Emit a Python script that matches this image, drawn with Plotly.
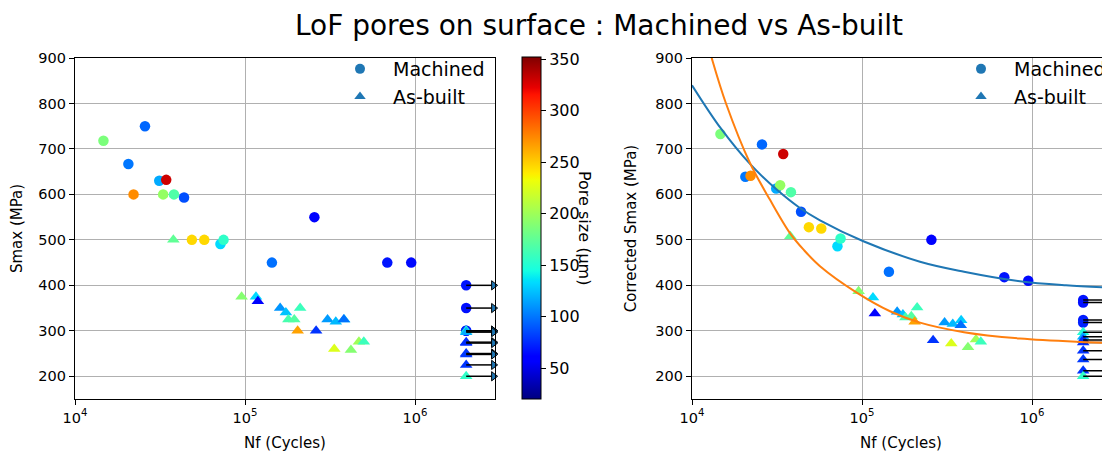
import plotly.graph_objects as go

# ---------------- data ----------------
# Machined specimens (circles)
mach_N = [1.47e4, 2.58e4, 2.06e4, 3.13e4, 3.44e4, 2.21e4, 3.3e4, 3.82e4, 4.38e4,
          4.87e4, 5.76e4, 7.17e4, 7.48e4, 2.56e5, 1.44e5, 6.87e5, 9.5e5]
mach_S = [718, 750, 667, 630, 632, 600, 600, 600, 593,
          500, 500, 491, 500, 550, 450, 450, 450]
mach_Sc = [733, 710, 639, 613, 689, 641, 620, 605, 562,
           528, 525, 486, 503, 500, 430, 418, 410]
mach_pore = [186, 95, 100, 117, 330, 273, 196, 168, 87,
             246, 246, 133, 155, 62, 98, 68, 64]

# Machined run-outs
mach_run_N = [2e6, 2e6, 2e6, 2e6]
mach_run_S = [400, 350, 300, 300]
mach_run_Sc = [368, 362, 324, 318]
mach_run_pore = [68, 66, 70, 72]

# As-built specimens (triangles)
ab_N = [3.79e4, 9.55e4, 1.16e5, 1.19e5, 1.61e5, 1.74e5, 2.11e5, 1.8e5, 1.95e5, 2.04e5,
        2.62e5, 3.06e5, 3.42e5, 3.83e5, 3.81e5, 3.35e5, 4.2e5, 4.68e5, 5.0e5]
ab_S = [500, 375, 375, 365, 350, 340, 350, 325, 325, 300,
        300, 325, 320, 325, 325, 260, 258, 276, 276]
ab_Sc = [508, 387, 373, 338, 342, 336, 351, 329, 332, 320,
         279, 318, 315, 323, 312, 272, 264, 281, 276]
ab_pore = [175, 190, 133, 62, 110, 125, 160, 165, 170, 265,
           78, 112, 122, 128, 98, 225, 190, 200, 160]

# As-built run-outs
ab_run_N = [2e6, 2e6, 2e6, 2e6, 2e6, 2e6, 2e6, 2e6]
ab_run_S = [300, 297, 275, 273, 250, 248, 225, 200]
ab_run_Sc = [297, 287, 280, 274, 256, 237, 212, 200]
ab_run_pore = [150, 118, 78, 76, 78, 80, 78, 155]

# Fitted curves (right panel)
fit_mach_N = [1e4, 1.479e4, 2.193e4, 3.162e4, 4.315e4, 5.662e4, 1.019e5, 2.193e5,
              3.981e5, 8.492e5, 1.585e6, 2.877e6, 4e6]
fit_mach_S = [840, 745, 667, 610, 570, 543, 497, 452, 430, 409, 400, 395, 393]
fit_ab_N = [1.122e4, 1.306e4, 1.585e4, 2.193e4, 2.877e4, 3.767e4, 4.519e4, 5.662e4,
            9.31e4, 1.462e5, 2.193e5, 3.981e5, 8.492e5, 2.089e6, 2.877e6, 4e6]
fit_ab_S = [990, 900, 800, 669, 588, 515, 479, 442, 384, 343, 318, 297, 283, 275, 273, 272]

x_tickvals = [1e4, 1e5, 1e6]
x_ticktext = ["10<sup>4</sup>", "10<sup>5</sup>", "10<sup>6</sup>"]
y_tickvals = [200, 300, 400, 500, 600, 700, 800, 900]
cb_tickvals = [50, 100, 150, 200, 250, 300, 350]

# ---------------- style ----------------
FONT = "DejaVu Sans"
C0 = "#1f77b4"
C1 = "#ff7f0e"
# the page body adds an 8 px offset; the figure is sized to fit inside the window
OFF = 8
W, H = 1110 - OFF, 452 - OFF


def px(xp):
    return (xp - OFF) / W


def py(yp):
    return 1 - (yp - OFF) / H


def jet(t):
    def interp(pts, t):
        for (x0, y0), (x1, y1) in zip(pts[:-1], pts[1:]):
            if x0 <= t <= x1:
                return y0 + (y1 - y0) * (t - x0) / (x1 - x0) if x1 > x0 else y1
        return pts[-1][1]
    r = interp([(0, 0), (0.35, 0), (0.66, 1), (0.89, 1), (1, 0.5)], t)
    g = interp([(0, 0), (0.125, 0), (0.375, 1), (0.64, 1), (0.91, 0), (1, 0)], t)
    b = interp([(0, 0.5), (0.11, 1), (0.34, 1), (0.65, 0), (1, 0)], t)
    return "rgb(%d,%d,%d)" % (round(r * 255), round(g * 255), round(b * 255))


stops = [0, 0.11, 0.125, 0.2, 0.34, 0.35, 0.375, 0.5, 0.64, 0.65, 0.66, 0.75, 0.89, 0.91, 1]
jet_scale = [[t, jet(t)] for t in stops]

fig = go.Figure()


def scatter(xs, ys, cs, symbol, size, xa, ya):
    fig.add_trace(go.Scatter(
        x=xs, y=ys, mode="markers", xaxis=xa, yaxis=ya, showlegend=False,
        marker=dict(symbol=symbol, size=size, color=cs, coloraxis="coloraxis",
                    line=dict(width=0)),
        hoverinfo="x+y"))


# left panel
scatter(mach_N, mach_S, mach_pore, "circle", 10.5, "x", "y")
scatter(mach_run_N, mach_run_S, mach_run_pore, "circle", 10.5, "x", "y")
scatter(ab_N, ab_S, ab_pore, "triangle-up", 11, "x", "y")
scatter(ab_run_N, ab_run_S, ab_run_pore, "triangle-up", 11, "x", "y")

# right panel
scatter(mach_N, mach_Sc, mach_pore, "circle", 10.5, "x2", "y2")
scatter(mach_run_N, mach_run_Sc, mach_run_pore, "circle", 10.5, "x2", "y2")
scatter(ab_N, ab_Sc, ab_pore, "triangle-up", 11, "x2", "y2")
scatter(ab_run_N, ab_run_Sc, ab_run_pore, "triangle-up", 11, "x2", "y2")

# run-out arrows
ARROW_HEAD_L = 2.9e6
for run_N, run_S, run_Sc in [(mach_run_N, mach_run_S, mach_run_Sc),
                             (ab_run_N, ab_run_S, ab_run_Sc)]:
    xs, ys = [], []
    for n, s in zip(run_N, run_S):
        xs += [n, ARROW_HEAD_L * 0.97, None]
        ys += [s, s, None]
    fig.add_trace(go.Scatter(x=xs, y=ys, mode="lines", xaxis="x", yaxis="y",
                             line=dict(color="black", width=1.5), showlegend=False,
                             hoverinfo="skip"))
    fig.add_trace(go.Scatter(x=[ARROW_HEAD_L] * len(run_S), y=run_S, mode="markers",
                             xaxis="x", yaxis="y", showlegend=False, cliponaxis=False,
                             marker=dict(symbol="triangle-right", size=8, color=C0,
                                         line=dict(color="black", width=1)),
                             hoverinfo="skip"))
    xs, ys = [], []
    for n, s in zip(run_N, run_Sc):
        xs += [n, 4e6, None]
        ys += [s, s, None]
    fig.add_trace(go.Scatter(x=xs, y=ys, mode="lines", xaxis="x2", yaxis="y2",
                             line=dict(color="black", width=1.5), showlegend=False,
                             hoverinfo="skip"))

# fitted curves
fig.add_trace(go.Scatter(x=fit_mach_N, y=fit_mach_S, mode="lines", xaxis="x2", yaxis="y2",
                         line=dict(color=C0, width=2, shape="spline"), showlegend=False))
fig.add_trace(go.Scatter(x=fit_ab_N, y=fit_ab_S, mode="lines", xaxis="x2", yaxis="y2",
                         line=dict(color=C1, width=2, shape="spline"), showlegend=False))

# legend entries
for leg, xa, ya in [("legend", "x", "y"), ("legend2", "x2", "y2")]:
    fig.add_trace(go.Scatter(x=[None], y=[None], mode="markers", name="Machined",
                             xaxis=xa, yaxis=ya, legend=leg,
                             marker=dict(symbol="circle", size=10, color=C0)))
    fig.add_trace(go.Scatter(x=[None], y=[None], mode="markers", name="As-built",
                             xaxis=xa, yaxis=ya, legend=leg,
                             marker=dict(symbol="triangle-up", size=10, color=C0)))

# ---------------- layout ----------------
yd = [py(399), py(58)]
axis_common = dict(showline=True, linecolor="black", linewidth=1.2, ticks="outside",
                   ticklen=5, tickwidth=1, tickcolor="black", showgrid=True,
                   gridcolor="#b0b0b0", gridwidth=1, zeroline=False, automargin=False,
                   tickfont=dict(family=FONT, size=14.5, color="black"))

xcommon = dict(axis_common, type="log", tickvals=x_tickvals, ticktext=x_ticktext,
               title=dict(text="Nf (Cycles)", font=dict(family=FONT, size=15, color="black"),
                          standoff=12))
ycommon = dict(axis_common, range=[150, 900], tickvals=y_tickvals)

leg_common = dict(bgcolor="rgba(0,0,0,0)", borderwidth=0, itemwidth=56,
                  font=dict(family=FONT, size=19, color="black"),
                  xanchor="left", yanchor="top", tracegroupgap=0, itemclick=False)

fig.update_layout(
    width=W, height=H, margin=dict(l=0, r=0, t=0, b=0, autoexpand=False),
    paper_bgcolor="white", plot_bgcolor="white",
    font=dict(family=FONT, color="black"),
    title=dict(text="LoF pores on surface : Machined vs As-built", x=px(599), xanchor="center",
               y=py(25), yanchor="middle", yref="container", xref="paper",
               font=dict(family=FONT, size=28, color="black")),
    xaxis=dict(xcommon, domain=[px(75), px(495)], range=[4, 6.4706], mirror=True, anchor="y"),
    yaxis=dict(ycommon, domain=yd, mirror=True, anchor="x",
               title=dict(text="Smax (MPa)", font=dict(family=FONT, size=15, color="black"))),
    xaxis2=dict(xcommon, domain=[px(692), 1.0], range=[4, 6.4588], mirror=True, anchor="y2"),
    yaxis2=dict(ycommon, domain=yd, mirror=False, anchor="x2",
                title=dict(text="Corrected Smax (MPa)",
                           font=dict(family=FONT, size=15, color="black"))),
    coloraxis=dict(colorscale=jet_scale, cmin=20, cmax=352,
                   colorbar=dict(x=px(522), xanchor="left", xpad=0, ypad=0,
                                 y=py(228), yanchor="middle",
                                 len=342, lenmode="pixels", thickness=19,
                                 thicknessmode="pixels", outlinewidth=1, outlinecolor="black",
                                 ticks="outside", ticklen=5, tickcolor="black",
                                 tickvals=cb_tickvals,
                                 tickfont=dict(family=FONT, size=16, color="black"))),
    legend=dict(leg_common, x=px(360 - 33), y=py(50)),
    legend2=dict(leg_common, x=px(981 - 33), y=py(50)),
    annotations=[dict(text="Pore size (μm)", x=px(585), y=py(228), xref="paper",
                      yref="paper", showarrow=False, textangle=90,
                      font=dict(family=FONT, size=16, color="black"),
                      xanchor="center", yanchor="middle")],
)

fig.write_html("out.html")
